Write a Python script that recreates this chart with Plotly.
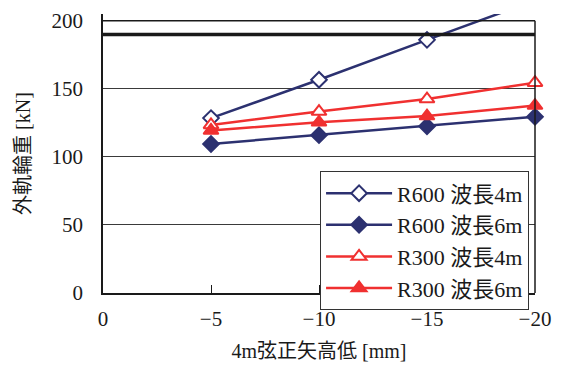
import plotly.graph_objects as go

# 4m chord versine irregularity [mm] vs. outer-rail wheel load [kN]
versine = [-5, -10, -15, -20]
r600_w4 = [128.5, 156.7, 186.0, 215.0]
r600_w6 = [109.5, 116.0, 122.5, 129.5]
r300_w4 = [123.5, 133.3, 142.5, 154.5]
r300_w6 = [119.4, 125.4, 130.0, 137.7]
limit_load = 190

x_ticks = [0, -5, -10, -15, -20]
y_ticks = [0, 50, 100, 150, 200]

NAVY = "#2c3170"
RED = "#f03030"
FONT = "Liberation Serif, Noto Sans CJK JP"

# name, values, colour, symbol, size, hollow
series = [
    ("R600 波長4m", r600_w4, NAVY, "diamond", 12, True),
    ("R600 波長6m", r600_w6, NAVY, "diamond", 12, False),
    ("R300 波長4m", r300_w4, RED, "triangle-up", 13, True),
    ("R300 波長6m", r300_w6, RED, "triangle-up", 13, False),
]

fig = go.Figure()
for i, (name, vals, col, sym, sz, hollow) in enumerate(series):
    fig.add_trace(go.Scatter(
        x=versine, y=vals, name=name, mode="lines+markers",
        line=dict(color=col, width=2.5),
        marker=dict(symbol=sym, size=sz, color="white" if hollow else col,
                    line=dict(color=col, width=2)),
        legendgroup=f"g{i}", cliponaxis=False,
    ))

# limit line and the top/right edges of the frame
fig.add_shape(type="line", xref="paper", x0=0, x1=1, yref="y", y0=limit_load, y1=limit_load,
              line=dict(color="#1a1a1a", width=3.5), layer="above")
fig.add_shape(type="line", xref="paper", x0=0, x1=1, yref="y", y0=200, y1=200,
              line=dict(color="#1a1a1a", width=1.5), layer="above")
fig.add_shape(type="line", xref="paper", x0=1, x1=1, yref="y", y0=0, y1=200,
              line=dict(color="#1a1a1a", width=1.5), layer="above")

fig.update_layout(
    width=561, height=369,
    margin=dict(l=103, r=26, t=9, b=76),
    paper_bgcolor="white", plot_bgcolor="white",
    font=dict(family=FONT, size=21, color="#1a1a1a"),
    showlegend=True,
    legend=dict(
        x=0.502, y=0.4366, xanchor="left", yanchor="top",
        bgcolor="white", bordercolor="#333333", borderwidth=1.2,
        font=dict(family=FONT, size=22, color="#1a1a1a"),
        tracegroupgap=0, itemwidth=66,
    ),
    xaxis=dict(
        range=[0, -20], tickvals=x_ticks, ticks="inside", ticklen=8, tickwidth=1,
        tickcolor="#1a1a1a", showgrid=False, zeroline=False,
        showline=True, linecolor="#1a1a1a", linewidth=1.5,
        ticklabelstandoff=6,
        title=dict(text="4m弦正矢高低 [mm]", font=dict(size=20), standoff=14),
    ),
    yaxis=dict(
        range=[0, 205], tickvals=y_ticks, ticks="", showgrid=True,
        gridcolor="#3a3a3a", gridwidth=1, zeroline=False,
        showline=True, linecolor="#1a1a1a", linewidth=1.5,
        ticklabelstandoff=14,
        title=dict(text="外軌輪重 [kN]", font=dict(size=20), standoff=16),
    ),
)

fig.write_html("out.html")
